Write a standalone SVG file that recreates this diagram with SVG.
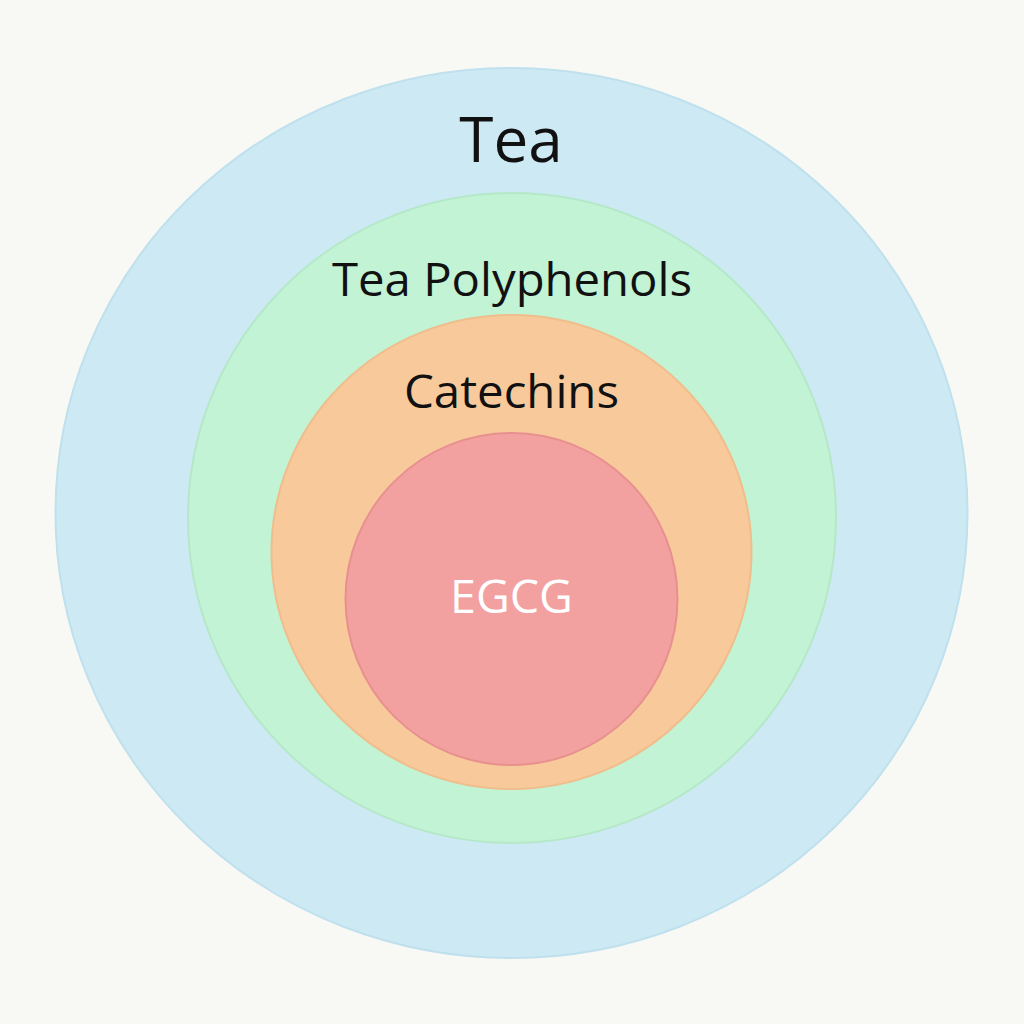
<svg xmlns="http://www.w3.org/2000/svg" width="1024" height="1024" viewBox="0 0 1024 1024">
<style>
.lbl{font-family:"Open Sans","Noto Sans","Liberation Sans",sans-serif;text-anchor:middle;fill:#111}
</style>
<rect width="1024" height="1024" fill="#f8f9f5"/>
<g id="tea">
<ellipse cx="511.5" cy="513" rx="456" ry="445" fill="#cdeaf4" stroke="#bfe0ec" stroke-width="2"/>
<text class="lbl" x="511" y="162" font-size="62">Tea</text>
</g>
<g id="polyphenols">
<ellipse cx="512" cy="518" rx="324" ry="325" fill="#c2f3d4" stroke="#b4e8c8" stroke-width="2"/>
<text class="lbl" x="512" y="296" font-size="46" textLength="360" lengthAdjust="spacingAndGlyphs">Tea Polyphenols</text>
</g>
<g id="catechins">
<ellipse cx="511.5" cy="552" rx="240" ry="237" fill="#f8c99a" stroke="#f0bd8c" stroke-width="2"/>
<text class="lbl" x="511.5" y="408" font-size="46" textLength="215" lengthAdjust="spacingAndGlyphs">Catechins</text>
</g>
<g id="egcg">
<circle cx="511.5" cy="599" r="166" fill="#f2a1a0" stroke="#e8908f" stroke-width="2"/>
<text class="lbl" x="511.5" y="613" font-size="46" style="fill:#fff" textLength="123" lengthAdjust="spacingAndGlyphs">EGCG</text>
</g>
<g id="connectors"/>
</svg>
